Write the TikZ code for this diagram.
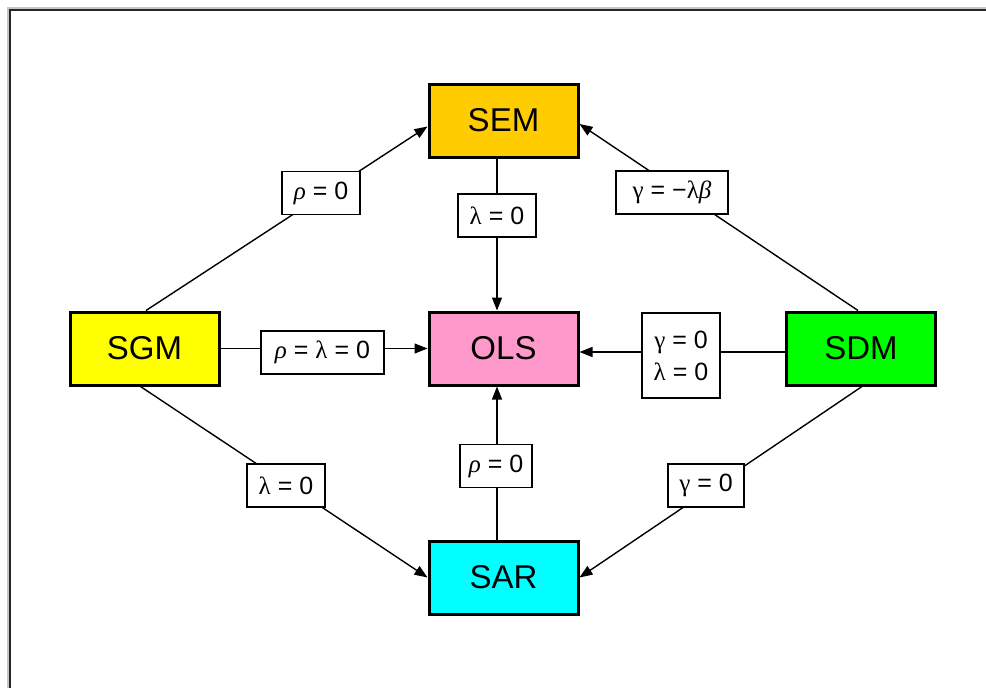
\documentclass[tikz,border=0pt]{standalone}
\usepackage{fontspec}
\setmainfont{Liberation Sans}
\newfontfamily\grk{Liberation Serif}
\usetikzlibrary{arrows.meta}
\definecolor{semcol}{HTML}{FFCC00}
\definecolor{olscol}{HTML}{FF99CC}
\definecolor{sarcol}{HTML}{00FFFF}
\definecolor{sgmcol}{HTML}{FFFF00}
\definecolor{sdmcol}{HTML}{00FF00}
\newcommand{\gk}[1]{{\grk\itshape #1}}
\newcommand{\gu}[1]{{\grk #1}}
\tikzset{
  x=1pt, y=-1pt,
  model/.style={draw=black, line width=3pt, minimum width=149pt, minimum height=73pt,
    inner sep=0pt, font=\fontsize{33}{33}\selectfont},
  lbl/.style={draw=black, fill=white, line width=1.4pt, inner sep=0pt,
    minimum height=43pt, font=\fontsize{25}{28}\selectfont},
  conn/.style={line width=1.4pt, -{Triangle[length=13pt,width=10pt]}}
}
\begin{document}
\begin{tikzpicture}
\useasboundingbox (0,0) rectangle (986,688);
\fill[white] (0,0) rectangle (986,688);
% window frame
\draw[line width=4pt, gray!45] (9,688) -- (9,9) -- (986,9);
\draw[line width=2pt, black!85] (9.5,688) -- (9.5,9.5) -- (986,9.5);

% model boxes
\node[model, fill=semcol] (sem) at (503.5,120.5) {SEM};
\node[model, fill=olscol] (ols) at (503.5,348.5) {OLS};
\node[model, fill=sarcol] (sar) at (503.5,577.5) {SAR};
\node[model, fill=sgmcol] (sgm) at (144.5,348.5) {SGM};
\node[model, fill=sdmcol] (sdm) at (861,348.5) {SDM};

% restrictions between models
\draw[conn] ([xshift=1.5pt]sgm.north) -- ([yshift=-6pt]sem.west);
\draw[conn] ([xshift=-3pt]sdm.north) -- ([yshift=-3.5pt]sem.east);
\draw[conn] ([xshift=-4pt]sgm.south) -- (sar.west);
\draw[conn] ([xshift=1pt]sdm.south) -- (sar.east);
\draw[conn] ([xshift=-6.5pt]sem.south) -- ([xshift=-6.5pt]ols.north);
\draw[conn] ([xshift=-6.5pt]sar.north) -- ([xshift=-6.5pt]ols.south);
\draw[conn] (sgm.east) -- (ols.west);
\draw[conn] ([yshift=-3.5pt]sdm.west) -- ([yshift=-3.5pt]ols.east);

% restriction labels
\node[lbl, minimum width=78pt] (l1) at (321,193) {\gk{ρ} = 0};
\node[lbl, minimum width=78pt] (l2) at (497,215.5) {\gu{λ} = 0};
\node[lbl, minimum width=112pt] (l3) at (672,192.5) {\gu{γ} = −\gu{λ}\gk{β}};
\node[lbl, minimum width=123pt] (l4) at (322.5,352.5) {\gk{ρ} = \gu{λ} = 0};
\node[lbl, minimum width=78pt, minimum height=85pt, align=center] (l5) at (681,355.5)
  {\gu{γ} = 0\\[4pt]\gu{λ} = 0};
\node[lbl, minimum width=72pt] (l6) at (496,466) {\gk{ρ} = 0};
\node[lbl, minimum width=78pt] (l7) at (286,485.5) {\gu{λ} = 0};
\node[lbl, minimum width=76pt] (l8) at (706,485.5) {\gu{γ} = 0};
\end{tikzpicture}
\end{document}
